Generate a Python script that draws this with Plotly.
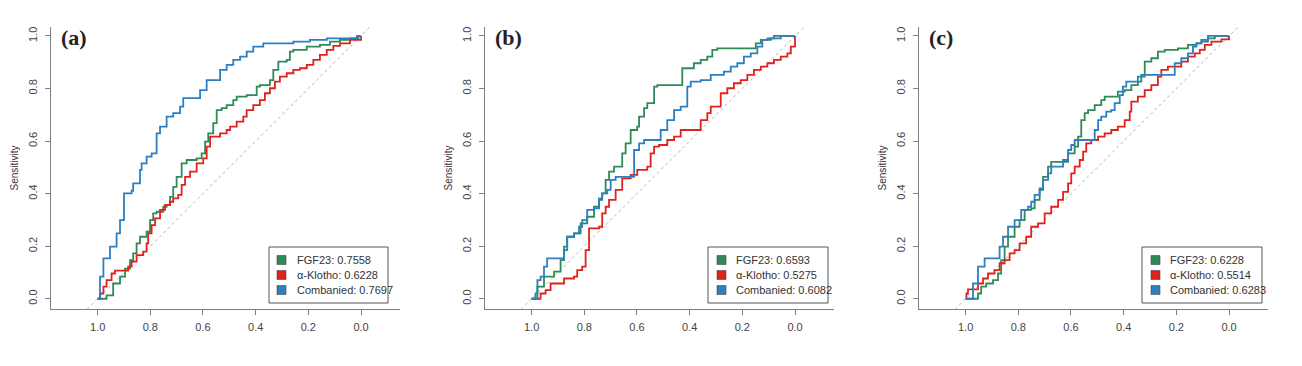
import plotly.graph_objects as go

# ---------------- data (specificity, sensitivity) ----------------
panel_labels = ["(a)", "(b)", "(c)"]
series_names = ["FGF23", "α-Klotho", "Combanied"]
auc_a = [0.7558, 0.6228, 0.7697]
auc_b = [0.6593, 0.5275, 0.6082]
auc_c = [0.6228, 0.5514, 0.6283]

tick_vals = [1.0, 0.8, 0.6, 0.4, 0.2, 0.0]
x_tick_text = ["1.0", "0.8", "0.6", "0.4", "0.2", "0.0"]
y_tick_vals = [0.0, 0.2, 0.4, 0.6, 0.8, 1.0]
y_tick_text = ["0.0", "0.2", "0.4", "0.6", "0.8", "1.0"]

# Panel (a)
a_fgf_spec = [1.0, 0.978, 0.966, 0.941, 0.915, 0.896, 0.877, 0.865, 0.852, 0.839, 0.814, 0.801, 0.789, 0.776,
              0.751, 0.738, 0.725, 0.713, 0.700, 0.681, 0.662, 0.624, 0.605, 0.592, 0.580, 0.561, 0.548, 0.529,
              0.510, 0.485, 0.472, 0.434, 0.396, 0.384, 0.346, 0.333, 0.314, 0.282, 0.270, 0.257, 0.206, 0.156,
              0.118, 0.080, 0.042, 0.010, 0.0]
a_fgf_sens = [0.0, 0.0, 0.013, 0.058, 0.084, 0.115, 0.147, 0.173, 0.211, 0.236, 0.255, 0.299, 0.325, 0.331,
              0.350, 0.357, 0.388, 0.426, 0.464, 0.515, 0.528, 0.534, 0.553, 0.598, 0.629, 0.668, 0.718, 0.725,
              0.737, 0.756, 0.769, 0.775, 0.807, 0.813, 0.832, 0.871, 0.902, 0.909, 0.940, 0.947, 0.959, 0.966,
              0.978, 0.985, 0.991, 1.0, 1.0]
a_klo_spec = [1.0, 0.991, 0.978, 0.966, 0.947, 0.934, 0.896, 0.884, 0.871, 0.852, 0.827, 0.814, 0.808, 0.795,
              0.782, 0.763, 0.744, 0.725, 0.713, 0.694, 0.681, 0.668, 0.649, 0.624, 0.599, 0.586, 0.573, 0.535,
              0.510, 0.497, 0.472, 0.447, 0.434, 0.409, 0.384, 0.365, 0.346, 0.327, 0.308, 0.282, 0.257, 0.232,
              0.206, 0.181, 0.156, 0.130, 0.105, 0.080, 0.042, 0.0, 0.0]
a_klo_sens = [0.0, 0.020, 0.046, 0.071, 0.096, 0.107, 0.107, 0.122, 0.141, 0.166, 0.179, 0.211, 0.249, 0.280,
              0.306, 0.338, 0.357, 0.369, 0.382, 0.395, 0.433, 0.464, 0.484, 0.515, 0.534, 0.579, 0.617, 0.629,
              0.642, 0.655, 0.674, 0.693, 0.718, 0.737, 0.756, 0.782, 0.801, 0.826, 0.845, 0.858, 0.871, 0.877,
              0.890, 0.909, 0.928, 0.947, 0.962, 0.972, 0.985, 0.991, 1.0]
a_com_spec = [1.0, 0.991, 0.978, 0.953, 0.928, 0.915, 0.900, 0.871, 0.865, 0.839, 0.833, 0.814, 0.795, 0.776,
              0.763, 0.751, 0.738, 0.713, 0.687, 0.675, 0.649, 0.611, 0.586, 0.561, 0.535, 0.510, 0.485, 0.459,
              0.434, 0.409, 0.371, 0.320, 0.257, 0.194, 0.130, 0.054, 0.016, 0.0]
a_com_sens = [0.0, 0.084, 0.154, 0.198, 0.249, 0.299, 0.401, 0.411, 0.439, 0.490, 0.515, 0.541, 0.553, 0.629,
              0.655, 0.655, 0.693, 0.706, 0.731, 0.763, 0.763, 0.794, 0.832, 0.832, 0.871, 0.890, 0.909, 0.921,
              0.940, 0.959, 0.972, 0.972, 0.978, 0.985, 0.991, 0.991, 1.0, 1.0]

# Panel (b)
b_fgf_spec = [1.0, 0.985, 0.978, 0.953, 0.915, 0.890, 0.877, 0.865, 0.839, 0.814, 0.789, 0.763, 0.744, 0.732,
              0.719, 0.706, 0.687, 0.662, 0.656, 0.643, 0.624, 0.599, 0.592, 0.573, 0.561, 0.542, 0.535, 0.523,
              0.434, 0.428, 0.403, 0.384, 0.358, 0.333, 0.314, 0.295, 0.168, 0.149, 0.130, 0.092, 0.080, 0.0]
b_fgf_sens = [0.0, 0.020, 0.046, 0.084, 0.103, 0.147, 0.198, 0.236, 0.249, 0.287, 0.312, 0.350, 0.376, 0.401,
              0.452, 0.484, 0.503, 0.503, 0.553, 0.591, 0.642, 0.655, 0.693, 0.725, 0.744, 0.744, 0.807, 0.813,
              0.813, 0.877, 0.877, 0.896, 0.909, 0.921, 0.947, 0.953, 0.953, 0.972, 0.985, 0.991, 1.0, 1.0]
b_klo_spec = [1.0, 0.978, 0.966, 0.947, 0.928, 0.884, 0.877, 0.839, 0.827, 0.808, 0.795, 0.782, 0.744, 0.732,
              0.719, 0.706, 0.681, 0.656, 0.624, 0.599, 0.561, 0.548, 0.535, 0.516, 0.485, 0.459, 0.434, 0.371,
              0.358, 0.333, 0.320, 0.295, 0.282, 0.257, 0.232, 0.206, 0.181, 0.156, 0.130, 0.105, 0.080, 0.054,
              0.029, 0.016, 0.0, 0.0]
b_klo_sens = [0.0, 0.0, 0.020, 0.033, 0.058, 0.058, 0.077, 0.084, 0.109, 0.122, 0.185, 0.268, 0.274, 0.325,
              0.350, 0.376, 0.414, 0.458, 0.471, 0.490, 0.503, 0.553, 0.579, 0.585, 0.604, 0.617, 0.642, 0.642,
              0.680, 0.706, 0.731, 0.731, 0.782, 0.801, 0.820, 0.832, 0.852, 0.871, 0.883, 0.896, 0.909, 0.921,
              0.934, 0.959, 0.978, 1.0]
b_com_spec = [1.0, 0.991, 0.978, 0.966, 0.953, 0.941, 0.890, 0.877, 0.865, 0.839, 0.820, 0.808, 0.789, 0.763,
              0.744, 0.732, 0.713, 0.700, 0.681, 0.630, 0.611, 0.592, 0.573, 0.529, 0.510, 0.485, 0.459, 0.434,
              0.409, 0.396, 0.358, 0.320, 0.270, 0.244, 0.219, 0.194, 0.168, 0.143, 0.124, 0.105, 0.054, 0.0]
b_com_sens = [0.0, 0.0, 0.071, 0.084, 0.122, 0.154, 0.154, 0.185, 0.236, 0.249, 0.274, 0.299, 0.338, 0.344,
              0.382, 0.401, 0.414, 0.452, 0.464, 0.464, 0.566, 0.591, 0.604, 0.604, 0.642, 0.680, 0.718, 0.731,
              0.807, 0.826, 0.832, 0.852, 0.864, 0.883, 0.896, 0.921, 0.934, 0.959, 0.985, 0.991, 1.0, 1.0]

# Panel (c)
c_fgf_spec = [1.0, 0.991, 0.953, 0.941, 0.922, 0.896, 0.877, 0.865, 0.852, 0.839, 0.814, 0.795, 0.776, 0.751,
              0.738, 0.719, 0.706, 0.687, 0.675, 0.624, 0.611, 0.586, 0.573, 0.561, 0.548, 0.535, 0.510, 0.485,
              0.472, 0.434, 0.422, 0.396, 0.371, 0.346, 0.333, 0.320, 0.295, 0.270, 0.244, 0.219, 0.194, 0.156,
              0.124, 0.105, 0.080, 0.054, 0.0]
c_fgf_sens = [0.0, 0.0, 0.020, 0.046, 0.058, 0.071, 0.096, 0.147, 0.198, 0.236, 0.274, 0.299, 0.338, 0.344,
              0.376, 0.414, 0.464, 0.503, 0.521, 0.521, 0.553, 0.579, 0.617, 0.680, 0.706, 0.718, 0.737, 0.756,
              0.769, 0.769, 0.788, 0.794, 0.813, 0.826, 0.852, 0.902, 0.915, 0.940, 0.947, 0.947, 0.953, 0.966,
              0.972, 0.978, 0.991, 1.0, 1.0]
c_klo_spec = [1.0, 0.997, 0.991, 0.966, 0.953, 0.934, 0.915, 0.890, 0.871, 0.852, 0.833, 0.814, 0.795, 0.770,
              0.751, 0.725, 0.700, 0.675, 0.649, 0.630, 0.611, 0.599, 0.586, 0.567, 0.554, 0.542, 0.523, 0.497,
              0.472, 0.447, 0.422, 0.396, 0.377, 0.371, 0.346, 0.320, 0.295, 0.270, 0.257, 0.232, 0.194, 0.181,
              0.156, 0.130, 0.111, 0.092, 0.067, 0.029, 0.0, 0.0]
c_klo_sens = [0.0, 0.020, 0.036, 0.036, 0.058, 0.077, 0.096, 0.109, 0.135, 0.147, 0.173, 0.185, 0.211, 0.236,
              0.274, 0.287, 0.325, 0.350, 0.376, 0.407, 0.439, 0.477, 0.503, 0.528, 0.560, 0.591, 0.604, 0.617,
              0.629, 0.642, 0.655, 0.680, 0.712, 0.750, 0.769, 0.794, 0.813, 0.845, 0.871, 0.883, 0.883, 0.902,
              0.921, 0.934, 0.947, 0.966, 0.978, 0.987, 0.991, 1.0]
c_com_spec = [1.0, 0.991, 0.972, 0.953, 0.934, 0.928, 0.884, 0.871, 0.858, 0.839, 0.814, 0.789, 0.763, 0.751,
              0.738, 0.719, 0.706, 0.687, 0.675, 0.643, 0.630, 0.611, 0.599, 0.586, 0.529, 0.510, 0.497, 0.485,
              0.466, 0.447, 0.434, 0.415, 0.403, 0.390, 0.358, 0.346, 0.320, 0.232, 0.206, 0.181, 0.156, 0.137,
              0.124, 0.105, 0.080, 0.0]
c_com_sens = [0.0, 0.0, 0.058, 0.122, 0.122, 0.154, 0.154, 0.198, 0.236, 0.274, 0.299, 0.338, 0.350, 0.369,
              0.395, 0.420, 0.452, 0.477, 0.503, 0.503, 0.528, 0.566, 0.585, 0.604, 0.604, 0.642, 0.680, 0.693,
              0.712, 0.718, 0.744, 0.775, 0.807, 0.826, 0.826, 0.845, 0.852, 0.852, 0.896, 0.915, 0.934, 0.959,
              0.972, 0.985, 1.0, 1.0]

# reference diagonal (chance line), extended beyond the plot and clipped
diag_spec = [1.25, -0.25]
diag_sens = [-0.25, 1.25]

# ---------------- styling ----------------
colors = ["#2E8B57", "#E0221C", "#2C7FC2"]
axis_color = "#808080"
text_color = "#444444"
font_sans = "Liberation Sans, Arial, sans-serif"

panels = [
    (auc_a, [(a_fgf_spec, a_fgf_sens), (a_klo_spec, a_klo_sens), (a_com_spec, a_com_sens)]),
    (auc_b, [(b_fgf_spec, b_fgf_sens), (b_klo_spec, b_klo_sens), (b_com_spec, b_com_sens)]),
    (auc_c, [(c_fgf_spec, c_fgf_sens), (c_klo_spec, c_klo_sens), (c_com_spec, c_com_sens)]),
]

# the page body has an 8px margin, so the figure is drawn 8px in from the window edge
OFF = 8
W, H = 1302 - 2 * OFF, 366 - 2 * OFF
panel_w = 434
plot_left, plot_right = 51 - OFF, 400 - OFF      # px inside a panel
plot_top, plot_bottom = 27 - OFF, 309 - OFF      # px

fig = go.Figure()
layout = dict(
    width=W, height=H,
    margin=dict(l=0, r=0, t=0, b=0),
    paper_bgcolor="white", plot_bgcolor="white",
    showlegend=False,
    font=dict(family=font_sans, size=11, color=text_color),
)

shapes = []
annotations = []
pw = plot_right - plot_left
ph = plot_bottom - plot_top
for i, (aucs, curves) in enumerate(panels):
    ax = "" if i == 0 else str(i + 1)
    xname, yname = "x" + ax, "y" + ax
    x0 = (panel_w * i + plot_left) / W
    x1 = (panel_w * i + plot_right) / W
    layout["xaxis" + ax] = dict(
        domain=[x0, x1], anchor=yname, automargin=False,
        range=[1.177, -0.148],
        tickvals=tick_vals, ticktext=x_tick_text,
        ticks="outside", ticklen=5, tickwidth=1, tickcolor=axis_color,
        showline=True, linecolor=axis_color, linewidth=1,
        showgrid=False, zeroline=False,
        tickfont=dict(family=font_sans, size=11, color=text_color),
        ticklabelstandoff=3,
    )
    layout["yaxis" + ax] = dict(
        domain=[1 - plot_bottom / H, 1 - plot_top / H], anchor=xname, automargin=False,
        range=[-0.039, 1.034],
        tickvals=y_tick_vals, ticktext=y_tick_text, tickangle=-90,
        ticks="outside", ticklen=5, tickwidth=1, tickcolor=axis_color,
        showline=True, linecolor=axis_color, linewidth=1,
        showgrid=False, zeroline=False,
        tickfont=dict(family=font_sans, size=11, color=text_color),
        ticklabelstandoff=4,
    )

    fig.add_trace(go.Scatter(x=diag_spec, y=diag_sens, mode="lines", xaxis=xname, yaxis=yname,
                             line=dict(color="#b5b5b5", width=1, dash="dot"), hoverinfo="skip"))
    for (spec, sens), col, name in zip(curves, colors, series_names):
        fig.add_trace(go.Scatter(x=spec, y=sens, mode="lines", name=name, xaxis=xname, yaxis=yname,
                                 line=dict(color=col, width=1.8, shape="hv")))

    xd, yd = xname + " domain", yname + " domain"
    # y-axis title
    annotations.append(dict(text="Sensitivity", xref=xd, yref=yd, x=(13.5 - 51) / pw, y=0.5,
                            xanchor="center", yanchor="middle", textangle=-90, showarrow=False,
                            font=dict(family=font_sans, size=10, color="#333333")))
    annotations.append(dict(text="<b>" + panel_labels[i] + "</b>", xref=xd, yref=yd, x=0.024, y=0.962,
                            xanchor="left", yanchor="middle", showarrow=False,
                            font=dict(family="Liberation Serif, Times New Roman, serif", size=22, color="#222222")))

    # legend box (pixel offsets measured from the panel's plot-area corner)
    if i == 0:
        bx0, bx1, sq0, tx = 218, 337, 226, 244
    else:
        bx0, bx1, sq0, tx = 223, 343, 232, 249
    shapes.append(dict(type="rect", xref=xd, yref=yd, x0=bx0 / pw, x1=bx1 / pw,
                       y0=(309 - 303) / ph, y1=(309 - 247) / ph,
                       line=dict(color="#555555", width=1), fillcolor="white", layer="above"))
    for k, (name, col, auc) in enumerate(zip(series_names, colors, aucs)):
        cy = 309 - (260 + 15 * k)
        shapes.append(dict(type="rect", xref=xd, yref=yd, x0=sq0 / pw, x1=(sq0 + 9) / pw,
                           y0=(cy - 4.5) / ph, y1=(cy + 4.5) / ph,
                           line=dict(color="#444444", width=0.6), fillcolor=col, layer="above"))
        annotations.append(dict(text=f"{name}: {auc:.4f}", xref=xd, yref=yd, x=tx / pw, y=cy / ph,
                                xanchor="left", yanchor="middle", showarrow=False,
                                font=dict(family=font_sans, size=11, color="#333333")))

layout["shapes"] = shapes
layout["annotations"] = annotations
fig.update_layout(**layout)
fig.write_html("out.html")
